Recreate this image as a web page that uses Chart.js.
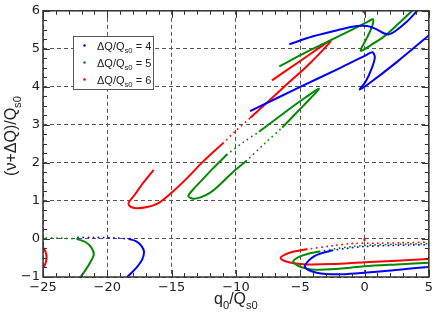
<!DOCTYPE html>
<html lang="en">
<head>
<meta charset="UTF-8">
<title>Tune footprint</title>
<script src="https://cdn.jsdelivr.net/npm/chart.js@4/dist/chart.umd.min.js"></script>
<style>
    body { margin: 0; background: #fff; }
    canvas { display: block; }
</style>
</head>
<body>
<canvas id="c" width="436" height="314"></canvas>
<script>
// axis ranges
const xRange = [-25, 5];
const yRange = [-1, 6];

// legend values (dQ/Qs0)
const seriesValues = [4, 5, 6];

// dQ/Qs0 = 4 (blue): dense branches, then sparse dotted branches
const q4Solid = [
    [[-18.3, 0.0], [-17.75, -0.06], [-17.35, -0.18], [-17.15, -0.33], [-17.3, -0.55], [-17.75, -0.76], [-18.15, -0.9], [-18.7, -1.08]],
    [[-2.5, -0.30], [-3.3, -0.37], [-3.9, -0.45], [-4.35, -0.57], [-4.65, -0.72], [-4.35, -0.82], [-3.8, -0.88], [-3.0, -0.92], [-2.0, -0.93], [-0.5, -0.9], [1.4, -0.85], [3.2, -0.79], [5.2, -0.73]],
    [[-8.9, 3.36], [-5, 4.0], [-2, 4.48], [0.2, 4.85], [0.62, 4.91], [0.8, 4.78], [0.55, 4.48], [0.1, 4.15], [-0.37, 3.93], [0.4, 4.1], [2.5, 4.65], [5.2, 5.41]],
    [[-5.85, 5.12], [-4, 5.33], [-2, 5.5], [-0.6, 5.6], [0.2, 5.6], [0.9, 5.52], [1.5, 5.41], [1.9, 5.38], [2.4, 5.47], [3.3, 5.72], [4.1, 6.0], [4.4, 6.1]]
];
const q4Dotted = [
    [[-18.3, 0.0], [-19.5, 0.03], [-21, 0.04], [-22.4, 0.04]],
    [[-2.5, -0.30], [-1.2, -0.24], [0, -0.2], [2, -0.17], [5.2, -0.15]]
];

// dQ/Qs0 = 5 (green)
const q5Solid = [
    [[-22.35, 0.0], [-21.7, -0.08], [-21.25, -0.22], [-21.05, -0.4], [-21.3, -0.6], [-21.7, -0.82], [-22.25, -1.08]],
    [[-3.5, -0.33], [-4.5, -0.4], [-5.1, -0.47], [-5.55, -0.59], [-5.2, -0.7], [-4.5, -0.78], [-3.8, -0.81], [-2, -0.78], [0, -0.72], [2.5, -0.67], [5.2, -0.62]],
    [[-10.7, 2.22], [-11.8, 1.85], [-12.5, 1.6], [-13.2, 1.35], [-13.7, 1.13], [-13.35, 1.06], [-12.7, 1.1], [-12, 1.22], [-11.4, 1.38], [-10.1, 1.8], [-9.2, 2.05]],
    [[-8.2, 2.82], [-6, 3.38], [-4.6, 3.72], [-3.55, 3.95], [-4.2, 3.7], [-5, 3.42], [-6.4, 2.93]],
    [[-6.63, 4.54], [-4.5, 4.92], [-2.75, 5.21], [-1, 5.5], [0.3, 5.72], [0.65, 5.78], [0.6, 5.6], [0.2, 5.3], [-0.3, 4.95], [0.5, 5.1], [1.5, 5.32], [2.6, 5.65], [3.7, 6.0], [4.0, 6.09]]
];
const q5Dotted = [
    [[-22.35, 0.0], [-23.5, 0.02], [-25.2, 0.03]],
    [[-3.5, -0.33], [-2.5, -0.27], [-1, -0.2], [0.5, -0.16], [2.5, -0.14], [5.2, -0.12]],
    [[-10.7, 2.22], [-9.4, 2.55], [-8.2, 2.82]],
    [[-9.2, 2.05], [-7.8, 2.5], [-6.4, 2.93]]
];

// dQ/Qs0 = 6 (red)
const q6Solid = [
    [[-25.2, -0.12], [-24.85, -0.3], [-24.72, -0.48], [-24.85, -0.68], [-25.2, -0.86]],
    [[-4.5, -0.27], [-5.5, -0.33], [-6.2, -0.41], [-6.53, -0.5], [-6.2, -0.58], [-5.5, -0.64], [-4.5, -0.67], [-2.5, -0.66], [0, -0.61], [2.5, -0.57], [5.2, -0.52]],
    [[-16.4, 1.82], [-17.2, 1.48], [-17.9, 1.15], [-18.35, 0.95], [-18.2, 0.85], [-17.75, 0.81], [-16.9, 0.84], [-16, 0.95], [-14.9, 1.25], [-13.8, 1.6], [-12.6, 2.02], [-11.0, 2.52]],
    [[-8.9, 3.18], [-6, 4.08], [-4.3, 4.6], [-2.62, 5.22], [-5, 4.68], [-7.2, 4.17]],
    [[0, -0.06], [0, 0.03]],
    [[-0.12, 5.95], [0, 6.05]]
];
const q6Dotted = [
    [[-4.5, -0.27], [-2.5, -0.18], [-1, -0.12], [1, -0.11], [3, -0.1], [5.2, -0.08]],
    [[-11.0, 2.52], [-10, 2.85], [-8.9, 3.18]]
];

const colors = ['#0000ff', '#008a00', '#ff0000'];
const titleFont = '"Liberation Sans", Arial, sans-serif';

function segDataset(points, color, dotted) {
    return {
        data: points.map(p => ({ x: p[0], y: p[1] })),
        showLine: true,
        borderColor: color,
        borderWidth: dotted ? 1.8 : 2,
        borderDash: dotted ? [0.1, 5] : [],
        borderCapStyle: dotted ? 'round' : 'butt',
        pointRadius: 0,
        tension: 0.3,
        fill: false
    };
}

const datasets = [];
[[q4Solid, q4Dotted], [q5Solid, q5Dotted], [q6Solid, q6Dotted]].forEach(([solid, dotted], i) => {
    solid.forEach(s => datasets.push(segDataset(s, colors[i], false)));
    dotted.forEach(s => datasets.push(segDataset(s, colors[i], true)));
});

// text with subscripts: parts = [[text, isSub], ...]
function richWidth(ctx, parts, size) {
    let w = 0;
    parts.forEach(([t, sub]) => {
        ctx.font = (sub ? size * 0.7 : size) + 'px ' + titleFont;
        w += ctx.measureText(t).width;
    });
    return w;
}
function drawRich(ctx, parts, x, y, size, align) {
    let cx = align === 'center' ? x - richWidth(ctx, parts, size) / 2 : x;
    ctx.textBaseline = 'alphabetic';
    ctx.textAlign = 'left';
    parts.forEach(([t, sub]) => {
        ctx.font = (sub ? size * 0.7 : size) + 'px ' + titleFont;
        ctx.fillText(t, cx, sub ? y + size * 0.3 : y);
        cx += ctx.measureText(t).width;
    });
}

const framePlugin = {
    id: 'frame',
    afterDatasetsDraw(chart) {
        const { ctx, chartArea: a, scales: { x, y } } = chart;
        ctx.save();
        ctx.strokeStyle = '#333';
        ctx.lineWidth = 1;
        ctx.beginPath();
        for (let v = xRange[0]; v <= xRange[1]; v++) {
            const px = Math.round(x.getPixelForValue(v)) + 0.5;
            const len = v % 5 === 0 ? 7 : 4;
            ctx.moveTo(px, a.bottom); ctx.lineTo(px, a.bottom - len);
            ctx.moveTo(px, a.top); ctx.lineTo(px, a.top + len);
        }
        for (let i = 0; i <= (yRange[1] - yRange[0]) * 4; i++) {
            const v = yRange[0] + i * 0.25;
            const py = Math.round(y.getPixelForValue(v)) + 0.5;
            const len = Number.isInteger(v) ? 7 : 4;
            ctx.moveTo(a.left, py); ctx.lineTo(a.left + len, py);
            ctx.moveTo(a.right, py); ctx.lineTo(a.right - len, py);
        }
        ctx.stroke();
        ctx.lineWidth = 1.5;
        ctx.strokeRect(a.left, a.top, a.right - a.left, a.bottom - a.top);

        // legend box
        ctx.fillStyle = '#fff';
        ctx.fillRect(73.5, 36.5, 80, 53);
        ctx.strokeStyle = '#555';
        ctx.lineWidth = 1;
        ctx.strokeRect(73.5, 36.5, 80, 53);
        seriesValues.forEach((v, i) => {
            const cy = 45.5 + i * 17;
            ctx.fillStyle = colors[i];
            ctx.beginPath();
            ctx.arc(84.5, cy, 1.3, 0, Math.PI * 2);
            ctx.fill();
            ctx.fillStyle = '#222';
            drawRich(ctx, [['\u0394Q/Q', 0], ['s0', 1], [' = ' + v, 0]], 97, cy + 4, 11, 'left');
        });

        // axis titles
        ctx.fillStyle = '#222';
        drawRich(ctx, [['q', 0], ['0', 1], ['/Q', 0], ['s0', 1]], (a.left + a.right) / 2, 304, 16, 'center');
        ctx.translate(16, 136);
        ctx.rotate(-Math.PI / 2);
        drawRich(ctx, [['(\u03bd+\u0394Q)/Q', 0], ['s0', 1]], 0, 0, 16, 'center');
        ctx.restore();
    }
};

const tickFmt = v => v < 0 ? '\u2212' + Math.abs(v) : String(v);
const tickFont = { family: '"DejaVu Sans", sans-serif', size: 13 };

new Chart(document.getElementById('c').getContext('2d'), {
    type: 'scatter',
    data: { datasets },
    options: {
        responsive: false,
        animation: false,
        devicePixelRatio: 1,
        layout: { padding: { top: 6, right: 6, left: 0, bottom: 0 } },
        plugins: { legend: { display: false }, tooltip: { enabled: false } },
        scales: {
            x: {
                type: 'linear',
                min: xRange[0], max: xRange[1],
                afterFit(s) { s.height = 37; },
                ticks: { stepSize: 5, callback: tickFmt, font: tickFont, color: '#222', padding: 3, maxRotation: 0 },
                grid: { color: '#555', drawTicks: false },
                border: { display: false, dash: [4, 3] }
            },
            y: {
                type: 'linear',
                min: yRange[0], max: yRange[1],
                afterFit(s) { s.width = 43; },
                ticks: { stepSize: 1, callback: tickFmt, font: tickFont, color: '#222', padding: 3 },
                grid: { color: '#555', drawTicks: false },
                border: { display: false, dash: [4, 3] }
            }
        }
    },
    plugins: [framePlugin]
});
</script>
</body>
</html>
